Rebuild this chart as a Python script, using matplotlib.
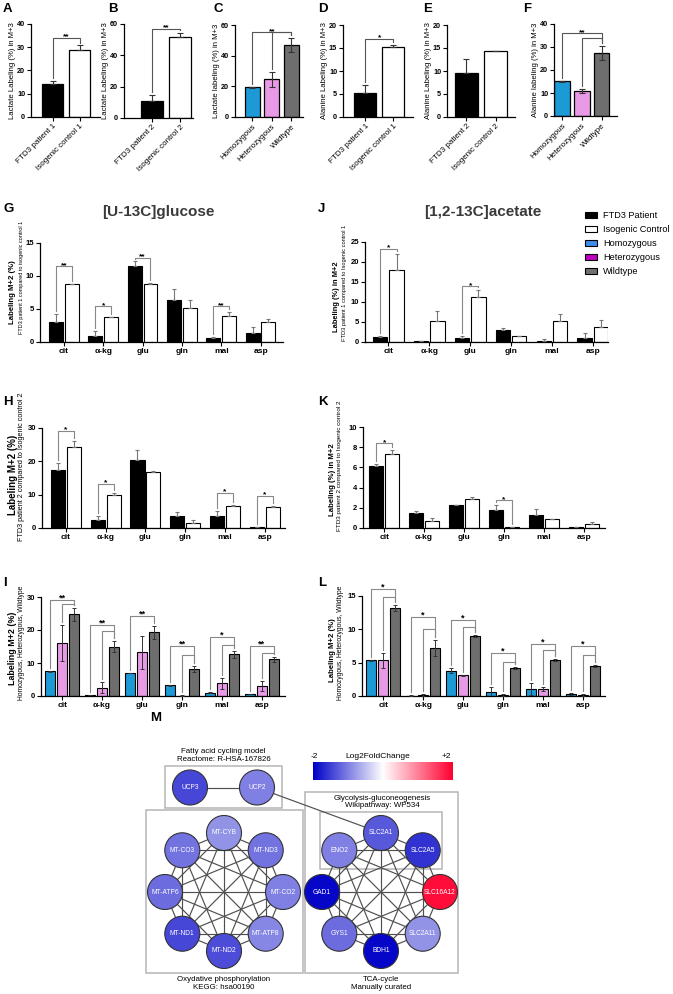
import itertools
import numpy as np
import matplotlib.pyplot as plt
from matplotlib.patches import Patch, Circle, Rectangle
from matplotlib.colors import LinearSegmentedColormap, Normalize

plt.rcParams['font.family'] = ['Liberation Sans', 'DejaVu Sans']
plt.rcParams['axes.linewidth'] = 0.9

W, H = 673, 994

# ---------------------------
# Data
# ---------------------------
pair1 = ["FTD3 patient 1", "Isogenic control 1"]
pair2 = ["FTD3 patient 2", "Isogenic control 2"]
geno = ["Homozygous", "Heterozygous", "Wildtype"]

lac_p1, lac_p1_err = [14.0, 29.0], [1.5, 1.8]
lac_p2, lac_p2_err = [11.0, 51.5], [3.5, 3.0]
lac_gen, lac_gen_err = [19.3, 24.5, 47.0], [0.2, 5.0, 4.5]
ala_p1, ala_p1_err = [5.2, 15.2], [1.7, 0.4]
ala_p2, ala_p2_err = [9.5, 14.3], [3.2, 0.1]
ala_gen, ala_gen_err = [15.0, 11.0, 27.5], [0.2, 0.8, 3.0]

metabolites = ["cit", "α-kg", "glu", "gln", "mal", "asp"]

# G: [U-13C]glucose, patient 1 vs control 1
glc_pat1 = [3.0, 0.9, 11.5, 6.3, 0.65, 1.3]
glc_pat1_err = [1.2, 0.8, 0.7, 1.7, 0.05, 0.9]
glc_ctl1 = [8.75, 3.75, 8.85, 5.1, 4.0, 3.1]
glc_ctl1_err = [0.1, 0.1, 0.1, 1.2, 0.6, 0.35]
# J: [1,2-13C]acetate, patient 1 vs control 1
ace_pat1 = [1.3, 0.15, 0.9, 3.1, 0.35, 1.1]
ace_pat1_err = [0.3, 0.1, 0.5, 0.3, 0.3, 1.1]
ace_ctl1 = [18.0, 5.2, 11.3, 1.4, 5.3, 3.7]
ace_ctl1_err = [4.0, 2.5, 1.6, 0.2, 1.8, 1.7]
# H: glucose, patient 2 vs control 2
glc_pat2 = [17.5, 2.3, 20.5, 3.5, 3.7, 0.2]
glc_pat2_err = [2.0, 1.2, 2.8, 1.3, 1.3, 0.2]
glc_ctl2 = [24.3, 9.8, 16.9, 1.6, 6.5, 6.3]
glc_ctl2_err = [1.7, 0.8, 0.1, 0.7, 0.3, 0.2]
# K: acetate, patient 2 vs control 2
ace_pat2 = [6.1, 1.5, 2.25, 1.8, 1.25, 0.05]
ace_pat2_err = [0.2, 0.2, 0.05, 0.5, 0.65, 0.02]
ace_ctl2 = [7.35, 0.65, 2.9, 0.05, 0.85, 0.4]
ace_ctl2_err = [0.35, 0.3, 0.2, 0.05, 0.05, 0.15]
# I: glucose, genotypes
glc_homo = [7.5, 0.3, 7.0, 3.2, 1.0, 0.6]
glc_homo_err = [0.1, 0.05, 0.1, 0.1, 0.2, 0.1]
glc_het = [16.0, 2.5, 13.2, 0.1, 3.8, 3.0]
glc_het_err = [5.5, 1.7, 5.0, 0.1, 1.6, 1.5]
glc_wild = [24.7, 15.0, 19.3, 8.3, 12.6, 11.1]
glc_wild_err = [2.0, 1.7, 2.0, 0.9, 1.1, 0.8]
# L: acetate, genotypes
ace_homo = [5.35, 0.05, 3.8, 0.6, 1.0, 0.35]
ace_homo_err = [0.05, 0.05, 0.4, 0.7, 0.9, 0.15]
ace_het = [5.35, 0.15, 3.1, 0.15, 1.05, 0.15]
ace_het_err = [1.1, 0.2, 0.1, 0.2, 0.35, 0.1]
ace_wild = [13.2, 7.2, 9.0, 4.2, 5.4, 4.5]
ace_wild_err = [0.4, 1.2, 0.1, 0.1, 0.1, 0.1]

# significance brackets: (bar a, bar b, height, label)
sig_A = [(0, 1, 34, "**")]
sig_B = [(0, 1, 57, "**")]
sig_C = [(0, 2, 55.4, "**"), (1, 2, 55.4, None)]
sig_D = [(0, 1, 17, "*")]
sig_F = [(0, 2, 36, "**"), (1, 2, 34, None)]
# (group, height, label)
sig_G = [(0, 11.5, "**"), (1, 5.4, "*"), (2, 12.8, "**"), (4, 5.4, "**")]
sig_J = [(0, 23.25, "*"), (2, 13.9, "*")]
sig_H = [(0, 29.1, "*"), (1, 13.2, "*"), (4, 10.6, "*"), (5, 9.6, "*")]
sig_K = [(0, 8.4, "*"), (3, 2.76, "*")]
# (group, outer height, inner height, label)
sig_I = [(0, 29, 27.9, "**"), (1, 21.6, 19.6, "**"), (2, 24.3, None, "**"),
         (3, 15.2, 12.5, "**"), (4, 18, 15.5, "*"), (5, 15.2, 13, "**")]
sig_L = [(0, 16.1, 14.8, "*"), (1, 11.8, 10, "*"), (2, 11.4, 10.4, "*"),
         (3, 6.4, 5.15, "*"), (4, 7.75, 6.9, "*"), (5, 7.5, 6.1, "*")]

# network (log2 fold change)
fa_genes = ["UCP3", "UCP2"]
fa_l2fc = [-1.45, -1.0]
ox_genes = ["MT-CYB", "MT-ND3", "MT-CO2", "MT-ATP8", "MT-ND2", "MT-ND1", "MT-ATP6", "MT-CO3"]
ox_l2fc = [-0.85, -1.1, -1.0, -0.95, -1.4, -1.45, -1.15, -1.1]
tca_genes = ["SLC2A1", "SLC2A5", "SLC16A12", "SLC2A11", "BDH1", "GYS1", "GAD1", "ENO2"]
tca_l2fc = [-1.3, -1.6, 1.9, -0.85, -1.95, -1.15, -1.95, -1.0]

HOMO, HET, WILD = "#1c9ad6", "#e99ae6", "#6e6e6e"

fig = plt.figure(figsize=(W / 100, H / 100), dpi=100)


def rect(x0, y0, x1, y1):
    # pixel box (origin top-left) -> figure fraction
    return [x0 / W, 1 - y1 / H, (x1 - x0) / W, (y1 - y0) / H]


def ftext(x, y, s, **kw):
    return fig.text(x / W, 1 - y / H, s, **kw)


def style(ax, ymax, ystep, xlim, numsize):
    for s in ("top", "right"):
        ax.spines[s].set_visible(False)
    ax.set_ylim(0, ymax)
    ax.set_yticks(np.arange(0, ymax + 0.01, ystep))
    ax.set_xlim(*xlim)
    ax.tick_params(length=3, width=0.8, pad=1.2, labelsize=numsize)
    for t in ax.get_yticklabels():
        t.set_fontweight("bold")


def bracket(ax, xa, xb, y, top_a, top_b, label, ymax, color, size):
    gap = 0.03 * ymax
    ax.plot([xa, xa, xb, xb], [top_a + gap, y, y, top_b + gap], color=color,
            lw=0.8, clip_on=False, zorder=4)
    if label:
        ax.annotate(label, ((xa + xb) / 2, y), xytext=(0, -0.5), textcoords="offset points",
                    ha="center", va="baseline", fontsize=size, fontweight="bold",
                    annotation_clip=False)


def top_panel(box, labels, vals, errs, colors, ymax, ystep, xlim, ylabel, both, sig):
    ax = fig.add_axes(rect(*box))
    x = np.arange(len(vals))
    errs = np.asarray(errs)
    lower = errs if both else np.zeros_like(errs)
    ax.bar(x, vals, width=0.78, color=colors, edgecolor="black", linewidth=0.9, zorder=2)
    ax.errorbar(x, vals, yerr=[lower, errs], fmt="none", ecolor="#333333",
                elinewidth=0.8, capsize=2.5, capthick=0.8, zorder=3)
    style(ax, ymax, ystep, xlim, 5.2)
    ax.set_xticks(x)
    ax.set_xticklabels(labels, rotation=45, ha="right", rotation_mode="anchor", fontsize=5.8)
    ax.set_ylabel(ylabel, fontsize=5.6, labelpad=0.5)
    tops = np.asarray(vals) + errs
    for a, b, y, lab in sig:
        bracket(ax, a, b, y, tops[a], tops[b], lab, ymax, "#555555", 6)
    return ax


def pair_panel(box, a, ae, b, be, ymax, ystep, xlim, sig):
    ax = fig.add_axes(rect(*box))
    x = np.arange(len(metabolites))
    z = np.zeros(len(x))
    off, w = 0.2, 0.355
    ax.bar(x - off, a, w, color="black", edgecolor="black", lw=0.8, zorder=2)
    ax.bar(x + off, b, w, color="white", edgecolor="black", lw=0.8, zorder=2)
    ax.errorbar(x - off, a, yerr=[z, ae], fmt="none", ecolor="#777777",
                elinewidth=0.8, capsize=1.6, capthick=0.8, zorder=3)
    ax.errorbar(x + off, b, yerr=[z, be], fmt="none", ecolor="#777777",
                elinewidth=0.8, capsize=1.6, capthick=0.8, zorder=3)
    style(ax, ymax, ystep, xlim, 5.5)
    ax.set_xticks(x)
    ax.set_xticklabels(metabolites, fontsize=6, fontweight="bold")
    ta = np.asarray(a) + np.asarray(ae)
    tb = np.asarray(b) + np.asarray(be)
    for i, y, lab in sig:
        bracket(ax, i - off, i + off, y, ta[i], tb[i], lab, ymax, "#888888", 6)
    return ax


def geno_panel(box, series, ymax, ystep, xlim, sig):
    ax = fig.add_axes(rect(*box))
    x = np.arange(len(metabolites))
    offs = (-0.3, 0.0, 0.3)
    tops = []
    for (vals, errs), col, off in zip(series, (HOMO, HET, WILD), offs):
        ax.bar(x + off, vals, 0.25, color=col, edgecolor="black", lw=0.8, zorder=2)
        ax.errorbar(x + off, vals, yerr=errs, fmt="none", ecolor="#333333",
                    elinewidth=0.7, capsize=1.5, capthick=0.7, zorder=3)
        tops.append(np.asarray(vals) + np.asarray(errs))
    style(ax, ymax, ystep, xlim, 5.5)
    ax.set_xticks(x)
    ax.set_xticklabels(metabolites, fontsize=6, fontweight="bold")
    for i, yo, yi, lab in sig:
        bracket(ax, i + offs[0], i + offs[2], yo, tops[0][i], tops[2][i], lab, ymax, "#888888", 6.5)
        if yi is not None:
            bracket(ax, i + offs[1], i + offs[2], yi, tops[1][i], tops[2][i], None, ymax, "#888888", 6.5)
    return ax


# ---------------------------
# Top row A-F
# ---------------------------
top_panel((31, 24, 100, 117), pair1, lac_p1, lac_p1_err, ["black", "white"], 40, 10,
          (-0.8, 1.76), "Lactate Labeling (%) in M+3", False, sig_A)
top_panel((124, 24, 193, 118), pair2, lac_p2, lac_p2_err, ["black", "white"], 60, 20,
          (-1.0, 1.45), "Lactate Labeling (%) in M+3", False, sig_B)
top_panel((235, 25, 303, 117), geno, lac_gen, lac_gen_err, [HOMO, HET, WILD], 60, 20,
          (-0.88, 2.6), "Lactate labeling (%) in M+3", True, sig_C)
top_panel((343, 25, 413, 117), pair1, ala_p1, ala_p1_err, ["black", "white"], 20, 5,
          (-0.8, 1.7), "Alanine Labeling (%) in M+3", False, sig_D)
top_panel((447, 25, 515, 117), pair2, ala_p2, ala_p2_err, ["black", "white"], 20, 5,
          (-0.65, 1.65), "Alanine Labeling (%) in M+3", False, [])
top_panel((554, 24, 617, 116), geno, ala_gen, ala_gen_err, [HOMO, HET, WILD], 40, 10,
          (-0.4, 2.77), "Alanine labeling (%) in M+3", True, sig_F)

for lab, x in zip("ABCDEF", (3, 108, 213, 318, 423, 523)):
    ftext(x, 3, lab, fontsize=9.5, fontweight="bold", va="top")

# ---------------------------
# G-L
# ---------------------------
pair_panel((40, 243, 283, 342), glc_pat1, glc_pat1_err, glc_ctl1, glc_ctl1_err, 15, 5, (-0.61, 5.57), sig_G)
pair_panel((365, 242, 608, 342), ace_pat1, ace_pat1_err, ace_ctl1, ace_ctl1_err, 25, 5, (-0.57, 5.37), sig_J)
pair_panel((42, 428, 285, 528), glc_pat2, glc_pat2_err, glc_ctl2, glc_ctl2_err, 30, 10, (-0.6, 5.51), sig_H)
pair_panel((363, 427, 605, 528), ace_pat2, ace_pat2_err, ace_ctl2, ace_ctl2_err, 10, 2, (-0.53, 5.53), sig_K)
geno_panel((41, 597, 285, 696), [(glc_homo, glc_homo_err), (glc_het, glc_het_err), (glc_wild, glc_wild_err)],
           30, 10, (-0.53, 5.58), sig_I)
geno_panel((362, 596, 605, 696), [(ace_homo, ace_homo_err), (ace_het, ace_het_err), (ace_wild, ace_wild_err)],
           15, 5, (-0.53, 5.55), sig_L)

ftext(158, 212, "[U-13C]glucose", fontsize=11, fontweight="bold", color="#3a3a3a", ha="center", va="center")
ftext(483, 212, "[1,2-13C]acetate", fontsize=11, fontweight="bold", color="#3a3a3a", ha="center", va="center")

ylabs = [
    (13, 292, "Labeling M+2 (%)", 5.6, 22, 277, "FTD3 patient 1 compared to isogenic control 1", 4.0),
    (337, 297, "Labeling (%) in M+2", 5.4, 345, 283, "FTD3 patient 1 compared to Isogenic control 1", 4.1),
    (13, 475, "Labeling M+2 (%)", 7.0, 22, 467, "FTD3 patient 2 compared to Isogenic control 2", 5.2),
    (332, 480, "Labeling (%) in M+2", 5.6, 340, 466, "FTD3 patient 2 compared to Isogenic control 2", 4.6),
    (13, 648, "Labeling M+2 (%)", 6.4, 22, 643, "Homozygous, Heterozygous, Wildtype", 4.9),
    (332, 650, "Labeling M+2 (%)", 5.6, 340, 643, "Homozygous, Heterozygous, Wildtype", 4.9),
]
for mx, my, mtxt, msz, sx, sy, stxt, ssz in ylabs:
    ftext(mx, my, mtxt, rotation=90, ha="center", va="center", fontsize=msz, fontweight="bold")
    ftext(sx, sy, stxt, rotation=90, ha="center", va="center", fontsize=ssz)

for lab, x, y in (("G", 3, 203), ("J", 318, 203), ("H", 3, 396), ("K", 318, 396),
                  ("I", 3, 577), ("L", 318, 577), ("M", 150, 712)):
    ftext(x, y, lab, fontsize=9.5, fontweight="bold", va="top")

# legend
handles = [Patch(facecolor=c, edgecolor="black", linewidth=0.8)
           for c in ("black", "white", "#3d8ef0", "#c000c0", "#707070")]
fig.legend(handles, ["FTD3 Patient", "Isogenic Control", "Homozygous", "Heterozygous", "Wildtype"],
           loc="upper left", bbox_to_anchor=(585 / W, 1 - 211 / H), frameon=False, fontsize=6.6,
           handlelength=1.3, handleheight=0.6, handletextpad=0.7, labelspacing=0.55,
           borderpad=0, borderaxespad=0)

# ---------------------------
# M: network
# ---------------------------
cmap = LinearSegmentedColormap.from_list("l2fc", ["#0000c8", "#ffffff", "#ff0030"])
norm = Normalize(-2, 2)

net = fig.add_axes(rect(140, 740, 470, 994))
net.set_xlim(140, 470)
net.set_ylim(994, 740)
net.axis("off")

node_r = 17.5


def octagon(cx, cy, r, genes):
    pos = {}
    for k, g in enumerate(genes):
        th = np.deg2rad(90 - 45 * k)
        pos[g] = (cx + r * np.cos(th), cy - r * np.sin(th))
    return pos


pos = {}
pos.update(octagon(224, 892, 59, ox_genes))
pos.update(octagon(381, 892, 59, tca_genes))
pos.update({g: (223.5 + (k - 0.5) * 67, 787.5) for k, g in enumerate(fa_genes)})

edges = list(itertools.combinations(ox_genes, 2)) + list(itertools.combinations(tca_genes, 2))
edges += [("UCP3", "UCP2"), ("UCP2", "SLC2A1")]
for a, b in edges:
    net.plot([pos[a][0], pos[b][0]], [pos[a][1], pos[b][1]], color="#505050", lw=0.85, zorder=2)

for genes, vals in ((fa_genes, fa_l2fc), (ox_genes, ox_l2fc), (tca_genes, tca_l2fc)):
    for g, v in zip(genes, vals):
        net.add_patch(Circle(pos[g], node_r, facecolor=cmap(norm(v)), edgecolor="#333333", lw=0.8, zorder=3))
        net.text(pos[g][0], pos[g][1], g, color="white", fontsize=4.8, ha="center", va="center", zorder=4)

for x0, y0, x1, y1 in ((165, 766, 282, 808), (146, 810, 303, 973), (305, 792, 458, 973), (320, 812, 442, 869)):
    net.add_patch(Rectangle((x0, y0), x1 - x0, y1 - y0, fill=False, edgecolor="#b5b5b5", lw=1.1, zorder=1))

box_text = dict(fontsize=5.7, ha="center", va="center", linespacing=1.15)
net.text(223.5, 755.5, "Fatty acid cycling model\nReactome: R-HSA-167826", **box_text)
net.text(382, 802, "Glycolysis-gluconeogenesis\nWikipathway: WP534", **box_text)
net.text(224, 983.5, "Oxydative phosphorylation\nKEGG: hsa00190", **box_text)
net.text(381.5, 983.5, "TCA-cycle\nManually curated", **box_text)

cax = fig.add_axes(rect(313, 762, 452, 780))
cax.imshow(np.linspace(-2, 2, 256)[None, :], cmap=cmap, norm=norm, aspect="auto")
cax.axis("off")
ftext(311, 757, "-2", fontsize=6, ha="left", va="center")
ftext(378, 757, "Log2FoldChange", fontsize=6, ha="center", va="center")
ftext(451, 757, "+2", fontsize=6, ha="right", va="center")

fig.savefig("out.png", dpi=100)
